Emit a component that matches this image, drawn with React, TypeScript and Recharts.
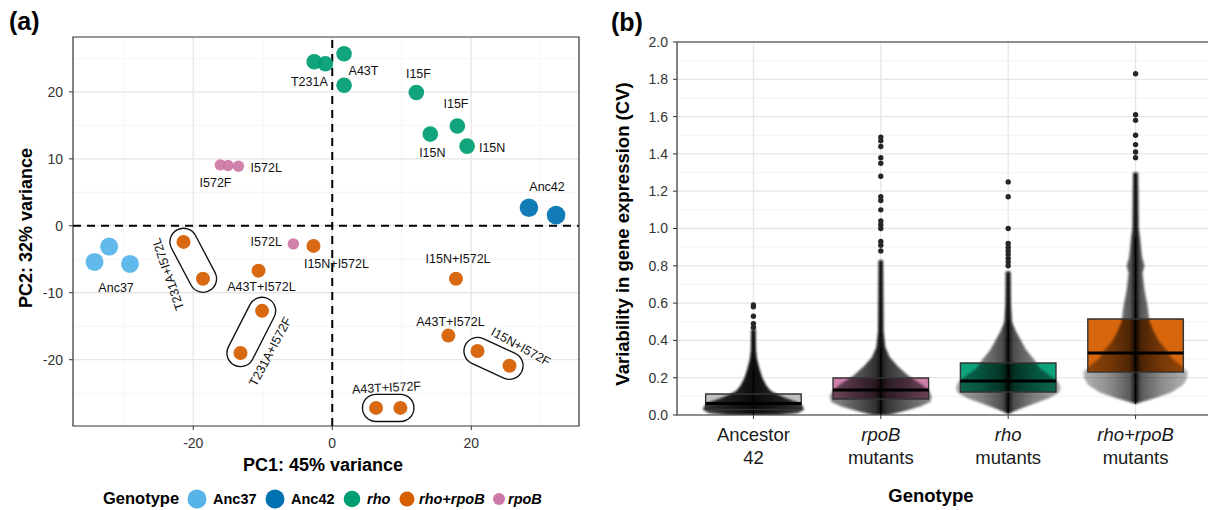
import React from "react";
import { Area, ComposedChart, Line, ReferenceArea, ReferenceLine, Scatter, XAxis, YAxis } from "recharts";

const FONT = "'Liberation Sans', Arial, Helvetica, sans-serif";

// ---- panel (a): PCA scores per genotype [PC1, PC2]
const anc37Points = [[-34.2, -5.4], [-32.1, -3.1], [-29.1, -5.7]];
const anc42Points = [[28.3, 2.7], [32.2, 1.6]];
const rhoPoints = [[-2.6, 24.5], [-1.0, 24.2], [1.7, 25.7], [1.7, 21.0], [12.1, 19.9], [18.0, 14.9], [14.1, 13.7], [19.4, 11.9]];
const rhoRpoBPoints = [
  [-21.4, -2.4], [-18.6, -7.9], [-10.6, -6.7], [-10.1, -12.7], [-13.2, -19.0], [-2.7, -3.0],
  [17.8, -7.9], [16.7, -16.4], [20.9, -18.7], [25.5, -20.9], [6.3, -27.2], [9.8, -27.2],
];
const rpoBPoints = [[-16.1, 9.1], [-15.0, 9.0], [-13.5, 8.9], [-5.6, -2.7]];

// replicate pairs that are circled (indices into rhoRpoBPoints)
const circledPairs = [[0, 1], [3, 4], [8, 9], [10, 11]];

const pcaLabels = [
  { text: "T231A", x: -3.3, y: 21.5, angle: 0 },
  { text: "A43T", x: 4.5, y: 23.1, angle: 0 },
  { text: "I15F", x: 12.4, y: 22.7, angle: 0 },
  { text: "I15F", x: 17.8, y: 18.2, angle: 0 },
  { text: "I15N", x: 14.4, y: 10.9, angle: 0 },
  { text: "I15N", x: 23.0, y: 11.6, angle: 0 },
  { text: "Anc42", x: 30.9, y: 5.8, angle: 0 },
  { text: "I572L", x: -9.5, y: 8.7, angle: 0 },
  { text: "I572F", x: -16.8, y: 6.4, angle: 0 },
  { text: "I572L", x: -9.5, y: -2.4, angle: 0 },
  { text: "Anc37", x: -31.1, y: -9.3, angle: 0 },
  { text: "T231A+I572L", x: -23.6, y: -7.2, angle: -109 },
  { text: "T231A+I572F", x: -8.9, y: -18.8, angle: -62 },
  { text: "A43T+I572L", x: -10.2, y: -9.1, angle: 0 },
  { text: "I15N+I572L", x: 0.6, y: -5.7, angle: 0 },
  { text: "I15N+I572L", x: 18.1, y: -4.9, angle: 0 },
  { text: "A43T+I572L", x: 17.0, y: -14.3, angle: 0 },
  { text: "I15N+I572F", x: 27.1, y: -18.1, angle: 29 },
  { text: "A43T+I572F", x: 7.8, y: -24.2, angle: -3 },
];

const pcaXTicks = [-20, 0, 20];
const pcaYTicks = [-20, -10, 0, 10, 20];
const pcaMinorX = [-30, -10, 10, 30];
const pcaMinorY = [-25, -15, -5, 5, 15, 25];
const pcaXDomain = [-37.3, 35.5];
const pcaYDomain = [-29.9, 28.2];

const genotypes = [
  { name: "Anc37", color: "#56B4E9", r: 9, italic: false, points: anc37Points },
  { name: "Anc42", color: "#0072B2", r: 9.3, italic: false, points: anc42Points },
  { name: "rho", color: "#009E73", r: 7.8, italic: true, points: rhoPoints },
  { name: "rho+rpoB", color: "#D55E00", r: 7, italic: true, points: rhoRpoBPoints },
  { name: "rpoB", color: "#CC79A7", r: 5.7, italic: true, points: rpoBPoints },
];

// ---- panel (b): CV distribution per group
const groupTop = ["Ancestor", "rpoB", "rho", "rho+rpoB"];
const groupBottom = ["42", "mutants", "mutants", "mutants"];
const groupItalic = [false, true, true, true];
const groupColors = ["#bdbdbd", "#CC79A7", "#009E73", "#D55E00"];

const boxQ1 = [0.03, 0.086, 0.123, 0.23];
const boxMedian = [0.062, 0.134, 0.182, 0.332];
const boxQ3 = [0.113, 0.198, 0.279, 0.515];
const whiskerLow = [0.0, 0.0, 0.01, 0.06];
const whiskerHigh = [0.24, 0.36, 0.51, 0.95];

// [cv, relative swarm half-width]
const ancDensity = [[0, 0.2], [0.01, 0.35], [0.03, 0.4], [0.05, 0.385], [0.07, 0.345], [0.09, 0.26], [0.11, 0.19], [0.13, 0.135], [0.16, 0.1], [0.2, 0.07], [0.25, 0.047], [0.3, 0.028], [0.35, 0.02], [0.46, 0.018]];
const rpoBDensity = [[0, 0.06], [0.02, 0.18], [0.045, 0.31], [0.07, 0.39], [0.1, 0.4], [0.13, 0.38], [0.16, 0.33], [0.19, 0.26], [0.215, 0.21], [0.26, 0.135], [0.31, 0.07], [0.365, 0.035], [0.45, 0.022], [0.83, 0.018]];
const rhoDensity = [[0.005, 0], [0.03, 0.08], [0.06, 0.2], [0.09, 0.32], [0.12, 0.4], [0.15, 0.41], [0.18, 0.39], [0.21, 0.33], [0.25, 0.25], [0.3, 0.2], [0.35, 0.14], [0.4, 0.1], [0.45, 0.06], [0.5, 0.03], [0.6, 0.022], [0.77, 0.02]];
const rhoRpoBDensity = [[0.06, 0], [0.09, 0.15], [0.12, 0.28], [0.16, 0.37], [0.19, 0.4], [0.23, 0.41], [0.27, 0.35], [0.3, 0.29], [0.35, 0.24], [0.4, 0.18], [0.45, 0.14], [0.5, 0.11], [0.58, 0.095], [0.67, 0.07], [0.76, 0.055], [0.8, 0.07], [0.85, 0.05], [0.95, 0.035], [1.0, 0.025], [1.3, 0.02]];
const densities = [ancDensity, rpoBDensity, rhoDensity, rhoRpoBDensity];

const ancOutliers = [0.59, 0.58, 0.53, 0.49, 0.47];
const rpoBOutliers = [1.49, 1.47, 1.44, 1.38, 1.35, 1.28, 1.17, 1.15, 1.1, 1.04, 1.02, 1.0, 0.93, 0.91, 0.88];
const rhoOutliers = [1.25, 1.17, 1.0, 0.92, 0.9, 0.88, 0.86, 0.84, 0.82, 0.8];
const rhoRpoBOutliers = [1.83, 1.61, 1.58, 1.5, 1.45, 1.41, 1.38];
const outliers = [ancOutliers, rpoBOutliers, rhoOutliers, rhoRpoBOutliers];

const cvTicks = [0, 0.2, 0.4, 0.6, 0.8, 1.0, 1.2, 1.4, 1.6, 1.8, 2.0];
const cvMinor = [0.1, 0.3, 0.5, 0.7, 0.9, 1.1, 1.3, 1.5, 1.7, 1.9];
const groupIndex = [0, 1, 2, 3];
const BOX_HALF = 0.375;

// swarm shading per group: [edge, mid, inner] opacity (denser groups look darker)
const swarmShade = [
  [0.72, 0.86, 0.93],
  [0.45, 0.65, 0.8],
  [0.35, 0.5, 0.7],
  [0.3, 0.45, 0.65],
];

// swarm silhouette traced left side up, right side down
function outline(gi: number, dens: number[][]) {
  const left = dens.map(([cv, w]) => ({ x: gi - w, y: cv }));
  const right = [...dens].reverse().map(([cv, w]) => ({ x: gi + w, y: cv }));
  return [...left, ...right];
}

const tickStyle = { fontSize: 14, fill: "#333", fontFamily: FONT };

function GroupTick(props: any) {
  const { x, y, payload } = props;
  const i = payload.value;
  return (
    <text textAnchor="middle" fontFamily={FONT} fontSize={18.5} fill="#1a1a1a">
      <tspan x={x} y={y + 20} fontStyle={groupItalic[i] ? "italic" : "normal"}>
        {groupTop[i]}
      </tspan>
      <tspan x={x} y={y + 43}>
        {groupBottom[i]}
      </tspan>
    </text>
  );
}

function PcaPanel() {
  let z = 1;
  return (
    <ComposedChart width={600} height={510} margin={{ top: 37, right: 21, bottom: 54, left: 20 }}>
      <XAxis type="number" dataKey="x" domain={pcaXDomain} ticks={pcaXTicks} allowDataOverflow height={30} tickSize={4} tickMargin={8} tick={tickStyle} axisLine={false} tickLine={{ stroke: "#333" }} />
      <YAxis type="number" dataKey="y" domain={pcaYDomain} ticks={pcaYTicks} allowDataOverflow width={53} tickSize={4} tickMargin={6} tick={tickStyle} axisLine={false} tickLine={{ stroke: "#333" }} />
      {pcaMinorX.map((v) => (
        <ReferenceLine key={`mx${v}`} x={v} stroke="#f0f0f0" strokeWidth={0.7} zIndex={z++} />
      ))}
      {pcaMinorY.map((v) => (
        <ReferenceLine key={`my${v}`} y={v} stroke="#f0f0f0" strokeWidth={0.7} zIndex={z++} />
      ))}
      {pcaXTicks.map((v) => (
        <ReferenceLine key={`gx${v}`} x={v} stroke="#e6e6e6" strokeWidth={1.3} zIndex={z++} />
      ))}
      {pcaYTicks.map((v) => (
        <ReferenceLine key={`gy${v}`} y={v} stroke="#e6e6e6" strokeWidth={1.3} zIndex={z++} />
      ))}
      <ReferenceLine x={0} stroke="#000" strokeWidth={2} strokeDasharray="8 6" zIndex={z++} />
      <ReferenceLine y={0} stroke="#000" strokeWidth={2} strokeDasharray="8 6" zIndex={z++} />
      <ReferenceArea x1={pcaXDomain[0]} x2={pcaXDomain[1]} y1={pcaYDomain[0]} y2={pcaYDomain[1]} fill="none" stroke="#333" strokeWidth={1.2} zIndex={z++} />
      {circledPairs.map(([a, b], k) => {
        const pair = [a, b].map((i) => ({ x: rhoRpoBPoints[i][0], y: rhoRpoBPoints[i][1] }));
        return (
          <React.Fragment key={`cap${k}`}>
            <Line data={pair} dataKey="y" type="linear" stroke="#111" strokeWidth={28.5} strokeLinecap="round" dot={false} activeDot={false} isAnimationActive={false} zIndex={z++} />
            <Line data={pair} dataKey="y" type="linear" stroke="#fff" strokeWidth={25.8} strokeLinecap="round" dot={false} activeDot={false} isAnimationActive={false} zIndex={z++} />
          </React.Fragment>
        );
      })}
      {genotypes.map((g) => (
        <Scatter
          key={g.name}
          data={g.points.map(([x, y]) => ({ x, y }))}
          fill={g.color}
          isAnimationActive={false}
          zIndex={z++}
          shape={(p: any) => <circle cx={p.cx} cy={p.cy} r={g.r} fill={g.color} fillOpacity={0.93} />}
        />
      ))}
      <Scatter
        data={pcaLabels}
        isAnimationActive={false}
        zIndex={z++}
        shape={(p: any) => (
          <text
            x={p.cx}
            y={p.cy}
            textAnchor="middle"
            dominantBaseline="central"
            fontFamily={FONT}
            fontSize={12.5}
            fill="#111"
            transform={`rotate(${p.payload.angle} ${p.cx} ${p.cy})`}
          >
            {p.payload.text}
          </text>
        )}
      />
    </ComposedChart>
  );
}

function CvPanel() {
  let z = 1;
  return (
    <ComposedChart width={620} height={510} margin={{ top: 42, right: 8, bottom: 45, left: 27 }}>
      <defs>
        {swarmShade.map(([e, m, c], gi) => (
          <linearGradient key={gi} id={`swarm${gi}`} x1="0" y1="0" x2="1" y2="0">
            <stop offset="0" stopColor="#000" stopOpacity={e} />
            <stop offset="0.25" stopColor="#000" stopOpacity={m} />
            <stop offset="0.45" stopColor="#000" stopOpacity={c} />
            <stop offset="0.5" stopColor="#000" stopOpacity={0.95} />
            <stop offset="0.55" stopColor="#000" stopOpacity={c} />
            <stop offset="0.75" stopColor="#000" stopOpacity={m} />
            <stop offset="1" stopColor="#000" stopOpacity={e} />
          </linearGradient>
        ))}
        <filter id="swarmSoft" x="-10%" y="-10%" width="120%" height="120%">
          <feGaussianBlur stdDeviation="0.8" />
        </filter>
      </defs>
      <XAxis type="number" dataKey="x" domain={[-0.6, 3.6]} ticks={groupIndex} allowDataOverflow height={50} tickSize={4} tickMargin={2} tick={GroupTick} axisLine={false} tickLine={{ stroke: "#333" }} />
      <YAxis type="number" dataKey="y" domain={[0, 2]} ticks={cvTicks} allowDataOverflow width={50} tickSize={4} tickMargin={5} tick={tickStyle} tickFormatter={(v: number) => v.toFixed(1)} axisLine={false} tickLine={{ stroke: "#333" }} />
      {cvMinor.map((v) => (
        <ReferenceLine key={`m${v}`} y={v} stroke="#f0f0f0" strokeWidth={0.8} zIndex={z++} />
      ))}
      {cvTicks.map((v) => (
        <ReferenceLine key={`g${v}`} y={v} stroke="#e6e6e6" strokeWidth={1.3} zIndex={z++} />
      ))}
      {groupIndex.map((gi) => (
        <ReferenceLine key={`v${gi}`} x={gi} stroke="#e6e6e6" strokeWidth={1.3} zIndex={z++} />
      ))}
      {groupIndex.map((gi) => (
        <ReferenceArea key={`bf${gi}`} x1={gi - BOX_HALF} x2={gi + BOX_HALF} y1={boxQ1[gi]} y2={boxQ3[gi]} fill={groupColors[gi]} fillOpacity={0.95} stroke="none" zIndex={z++} />
      ))}
      {groupIndex.map((gi) => (
        <Area key={`sw${gi}`} data={outline(gi, densities[gi])} dataKey="y" type="linear" baseValue={0} stroke="none" fill={`url(#swarm${gi})`} fillOpacity={1} filter="url(#swarmSoft)" isAnimationActive={false} dot={false} activeDot={false} zIndex={z++} />
      ))}
      {groupIndex.map((gi) => (
        <ReferenceLine key={`w${gi}`} segment={[{ x: gi, y: whiskerLow[gi] }, { x: gi, y: whiskerHigh[gi] }]} stroke="#000" strokeWidth={1.3} zIndex={z++} />
      ))}
      {groupIndex.map((gi) => (
        <ReferenceArea key={`bo${gi}`} x1={gi - BOX_HALF} x2={gi + BOX_HALF} y1={boxQ1[gi]} y2={boxQ3[gi]} fill="none" stroke="#333" strokeWidth={1.4} zIndex={z++} />
      ))}
      {groupIndex.map((gi) => (
        <ReferenceLine key={`md${gi}`} segment={[{ x: gi - BOX_HALF, y: boxMedian[gi] }, { x: gi + BOX_HALF, y: boxMedian[gi] }]} stroke="#000" strokeWidth={3} zIndex={z++} />
      ))}
      {groupIndex.map((gi) => (
        <Scatter
          key={`o${gi}`}
          data={outliers[gi].map((v) => ({ x: gi, y: v }))}
          isAnimationActive={false}
          zIndex={z++}
          shape={(p: any) => <circle cx={p.cx} cy={p.cy} r={2.7} fill="#262626" />}
        />
      ))}
      <ReferenceArea x1={-0.6} x2={3.6} y1={0} y2={2} fill="none" stroke="#333" strokeWidth={1.2} zIndex={z++} />
    </ComposedChart>
  );
}

function Overlay() {
  const legendX = [197, 275, 352, 407, 499];
  const legendTextX = [213, 291, 367, 419, 508];
  const legendR = [9.5, 9.5, 8.3, 7.5, 6];
  return (
    <svg width={1208} height={510} style={{ position: "absolute", left: 0, top: 0, pointerEvents: "none" }} fontFamily={FONT}>
      <text x={9} y={30} fontSize={25} fontWeight="bold" fill="#000">(a)</text>
      <text x={611} y={31} fontSize={25} fontWeight="bold" fill="#000">(b)</text>
      <text x={323} y={471} fontSize={18} fontWeight="bold" textAnchor="middle" fill="#000">PC1: 45% variance</text>
      <text x={32} y={228} fontSize={18} fontWeight="bold" textAnchor="middle" fill="#000" transform="rotate(-90 32 228)">PC2: 32% variance</text>
      <text x={629} y={234} fontSize={18.5} fontWeight="bold" textAnchor="middle" fill="#000" transform="rotate(-90 629 234)">Variability in gene expression (CV)</text>
      <text x={931} y={502} fontSize={18.5} fontWeight="bold" textAnchor="middle" fill="#000">Genotype</text>
      <text x={103} y={504} fontSize={16.5} fontWeight="bold" fill="#000">Genotype</text>
      {genotypes.map((g, i) => (
        <g key={g.name}>
          <circle cx={legendX[i]} cy={499} r={legendR[i]} fill={g.color} />
          <text x={legendTextX[i]} y={504} fontSize={14.5} fontWeight="bold" fontStyle={g.italic ? "italic" : "normal"} fill="#000">
            {g.name}
          </text>
        </g>
      ))}
    </svg>
  );
}

export default function App() {
  return (
    <div style={{ position: "absolute", left: 0, top: 0, width: 1208, height: 510, overflow: "hidden", background: "#fff", fontFamily: FONT }}>
      <div style={{ position: "absolute", left: 0, top: 0 }}>
        <PcaPanel />
      </div>
      <div style={{ position: "absolute", left: 600, top: 0 }}>
        <CvPanel />
      </div>
      <Overlay />
    </div>
  );
}
